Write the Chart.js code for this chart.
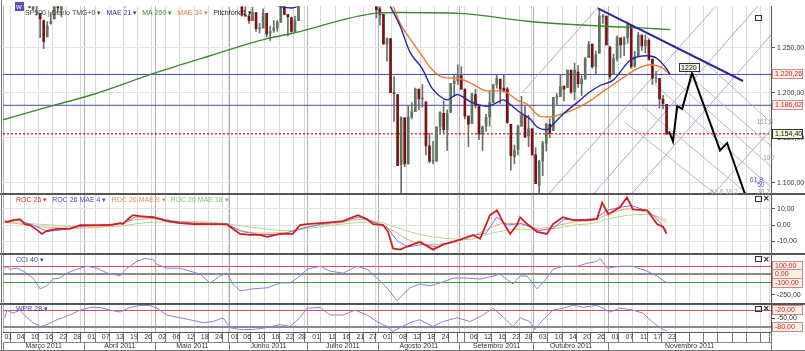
<!DOCTYPE html>
<html><head><meta charset="utf-8">
<script src="https://cdn.jsdelivr.net/npm/chart.js@4.4.1/dist/chart.umd.min.js"></script>
<style>html,body{margin:0;padding:0;background:#fff;overflow:hidden}</style>
</head><body>
<canvas id="c" width="805" height="351"></canvas>
<script>
// ---------- DATA (trading-day index 0 = 01 Mar 2011) ----------
const O = [1329,1305,1312,1331,1323,1311,1320,1316,1293,1301,1288,1280,1262,1277,1282,1298,1292,1301,1312,1316,1309,1322,1327,
1330,1334,1332,1336,1335,1336,1329,1322,1314,1311,1315,1313,1306,1319,1333,1337,1337,1348,1354,1360,
1365,1360,1356,1344,1340,1340,1348,1355,1339,1349,1335,1326,1329,1342,1342,1333,1318,1316,1321,1326,1331,
1345,1315,1313,1300,1286,1285,1280,1289,1271,1272,1288,1266,1269,1272,1278,1296,1287,1283,1268,1280,1297,1308,
1321,1340,1338,1340,1352,1343,1320,1315,1318,1309,1316,1307,1329,1326,1344,1344,1337,1332,1305,1300,
1293,1287,1254,1260,1200,1198,1120,1172,1121,1173,1179,1204,1193,1190,1141,1124,1124,1162,1177,1159,1178,1210,1213,
1219,1204,1174,1166,1198,1185,1154,1163,1173,1189,1209,1215,1205,1204,1165,1129,1137,1163,1175,1152,1160,
1131,1097,1124,1144,1165,1158,1195,1196,1207,1206,1225,1201,1223,1210,1215,1239,1254,1229,1244,1284,1285,
1251,1220,1238,1261,1253,1261,1275,1230,1240,1264,1252,1258,1237,1216,1216,1193,1187];
const H = [1332,1314,1332,1331,1328,1326,1323,1316,1308,1301,1288,1281,1279,1289,1301,1299,1301,1311,1319,1320,1320,1332,1330,
1338,1337,1338,1339,1339,1340,1334,1322,1321,1317,1323,1313,1313,1333,1338,1338,1350,1358,1362,1365,
1371,1361,1356,1348,1354,1349,1359,1355,1351,1351,1343,1330,1342,1347,1342,1333,1324,1326,1329,1335,1345,
1345,1318,1313,1300,1296,1287,1295,1289,1277,1293,1288,1274,1280,1280,1298,1299,1287,1284,1285,1297,1309,1322,
1341,1341,1341,1357,1352,1343,1327,1332,1327,1318,1316,1328,1330,1347,1346,1344,1339,1332,1316,1304,
1307,1287,1261,1260,1218,1198,1173,1172,1186,1189,1205,1204,1209,1190,1155,1146,1162,1179,1191,1181,1210,1220,1231,
1229,1204,1174,1199,1204,1185,1163,1176,1202,1209,1220,1215,1220,1206,1165,1142,1164,1196,1185,1175,1160,
1139,1125,1146,1166,1171,1195,1199,1220,1208,1225,1225,1233,1230,1219,1239,1257,1254,1246,1293,1287,1285,
1251,1243,1263,1261,1262,1278,1275,1246,1267,1264,1264,1260,1238,1224,1216,1197,1187];
const L = [1306,1303,1312,1313,1304,1307,1312,1294,1292,1286,1261,1249,1262,1276,1282,1289,1284,1298,1310,1310,1305,1322,1325,
1329,1329,1330,1331,1327,1323,1321,1310,1309,1302,1314,1295,1304,1319,1332,1332,1337,1344,1354,1359,
1359,1350,1342,1329,1334,1339,1348,1336,1332,1333,1327,1319,1327,1336,1331,1313,1314,1312,1314,1326,1331,
1314,1306,1298,1285,1285,1277,1280,1268,1266,1272,1262,1258,1267,1268,1278,1287,1263,1267,1268,1280,1297,1308,
1318,1331,1331,1340,1334,1316,1313,1315,1307,1307,1296,1307,1324,1326,1337,1331,1329,1304,1299,1283,
1275,1254,1235,1200,1168,1119,1086,1118,1121,1171,1179,1181,1184,1131,1122,1121,1124,1156,1155,1136,1178,1196,1209,
1204,1171,1140,1166,1183,1148,1136,1157,1163,1189,1205,1188,1201,1166,1114,1121,1131,1163,1150,1140,1131,
1099,1075,1108,1135,1150,1158,1187,1196,1191,1206,1199,1192,1206,1197,1215,1239,1227,1221,1244,1277,1253,
1215,1220,1235,1239,1241,1255,1227,1228,1240,1247,1244,1236,1209,1211,1183,1182,1154];
const C = [1306,1308,1331,1321,1310,1322,1320,1295,1304,1296,1282,1257,1274,1279,1298,1294,1298,1310,1314,1310,1319,1328,1326,
1332,1333,1333,1336,1334,1328,1324,1314,1314,1315,1320,1305,1313,1330,1337,1335,1347,1356,1360,1364,
1361,1357,1347,1335,1340,1346,1357,1342,1349,1338,1329,1329,1341,1344,1333,1317,1316,1320,1326,1331,1345,
1315,1313,1300,1286,1285,1280,1289,1271,1272,1288,1265,1268,1272,1278,1296,1287,1284,1268,1280,1297,1307,1321,
1340,1338,1339,1353,1344,1319,1314,1318,1309,1316,1305,1327,1326,1344,1345,1337,1332,1305,1301,1292,
1287,1254,1260,1200,1199,1119,1173,1121,1173,1179,1204,1193,1194,1141,1124,1124,1162,1178,1159,1177,1210,1213,1219,
1204,1174,1165,1199,1186,1154,1162,1173,1189,1209,1216,1204,1202,1167,1130,1136,1163,1175,1151,1160,1131,
1099,1124,1144,1165,1155,1195,1196,1207,1204,1225,1201,1225,1210,1215,1238,1254,1229,1242,1285,1285,1253,
1218,1238,1261,1253,1261,1276,1229,1240,1264,1252,1258,1237,1216,1216,1193,1188,1154];

// moving averages: [day index, price]
const ma200 = [[-0.5,1170],[14.8,1187],[24.9,1198],[42.5,1222],[58,1241],[74.1,1260],[81.4,1266],[104.6,1288],[111.7,1289],[128.6,1288],[148.4,1279],[168.2,1274],[179.5,1272],[188,1270]];
const mae21 = [[0,1318],[11,1302],[20,1306],[30,1322],[43,1340],[55,1340],[63,1333],[72,1305],[81,1294],[90,1318],[100,1324],[106,1315],[108.9,1296],[111.7,1274],[114.5,1245],[117.9,1227],[120.7,1205],[123,1196],[125,1192],[127.8,1198],[129.2,1196],[131.5,1190],[136.3,1185],[139.1,1189],[140.8,1192],[142.8,1187],[145.6,1178],[148.4,1171],[150.4,1162],[153.2,1159],[154.9,1165],[157.7,1176],[161.7,1189],[165.4,1201],[168.2,1208],[171.9,1214],[176.7,1236],[181.5,1241],[184.3,1238],[187.1,1226],[188,1220]];
const mae34 = [[0,1305],[15,1300],[30,1315],[45,1333],[63,1335],[75,1310],[85,1305],[100,1318],[106,1315],[109.7,1296],[111.7,1277],[114.5,1260],[117.9,1241],[120.2,1228],[123.8,1217],[127.8,1216],[131.5,1211],[136.3,1202],[139.9,1202],[141.9,1200],[144.7,1192],[147.6,1187],[151.2,1174],[154.1,1173],[156.9,1176],[160.6,1181],[165.4,1191],[168.2,1199],[173,1212],[177.5,1224],[182.3,1231],[186,1227],[188,1220]];

const levelsBlue = [1220.26, 1186.02];
const lastPrice = 1154.40;
const trendLine = [[167.6,1293.5],[208.6,1213]];
const forecast = [[187.7,1157],[188.8,1146],[190,1185],[191.4,1182],[194.2,1222],[202.1,1136],[204.1,1144],[210,1078]];
const forkLines = [
  [[146.15,1200],[169.3,1302]],
  [[153.5,1087],[201.8,1300]],
  [[166.2,1087],[213.4,1299]],
  [[177,1087],[216.5,1264]],
  [[200.1,1087],[216.5,1159]]
];
const fibLines = [
  [[183.7,1209],[216.5,1095]],
  [[187.4,1220],[216.5,1118]],
  [[190.8,1228],[216.5,1141]],
  [[196.4,1239],[216.5,1167]],
  [[179.5,1187],[210,1087]],
  [[175.3,1167],[201,1087]]
];

// indicators: [day index, value]
const roc26 = [[0,2.4],[0.6,1.8],[2.3,3.0],[4.3,3.6],[5.7,0.6],[7.1,0],[9.1,-3.0],[10.5,-5.5],[11.9,-3.6],[14.8,-2.4],[18.4,-2.4],[21.3,0],[24.1,0],[26.9,0],[29.7,0],[32.6,1.2],[33.4,0.6],[34.8,3.6],[36.2,6.1],[38.2,5.5],[41.9,4.8],[43.9,3.6],[45.8,2.4],[49.5,1.2],[53.2,0.6],[58.8,0.6],[62.8,0.6],[64.5,-2.4],[66.5,-5.5],[69.3,-6.1],[72.1,-6.1],[74.1,-7.3],[77.8,-5.5],[81.4,-5.5],[83.4,0],[85.4,0.6],[89.1,1.2],[92.7,1.8],[95.6,2.4],[97.5,4.2],[99.8,6.1],[102.4,3.6],[104.1,0.6],[106.9,0],[108.3,-4.2],[109.7,-14.5],[111.7,-15.2],[113.7,-13.3],[117.3,-10.3],[121,-15.2],[123.8,-12.1],[128.6,-9.1],[132.3,-6.1],[134.3,-8.5],[137.1,6.1],[139.1,9.1],[140.8,1.8],[142.8,-5.5],[144.7,0],[145.6,4.8],[147.6,0.6],[150.4,-4.2],[153.2,-5.5],[154.9,0.6],[157.7,4.8],[160.6,3.0],[164.5,3.0],[167.3,3.6],[168.8,13.9],[170.5,6.7],[173.8,10.9],[175.8,17],[177.5,9.7],[181.5,9.1],[184.3,0.6],[186,-1.2],[187,-5.5]];
const rocMae4 = [[0,2.2],[4,2.8],[8,0],[12,-4],[16,-3],[21,-1],[27,0],[33,0.8],[37,5],[42,5],[47,2.5],[55,0.8],[63,0.3],[67,-4],[72,-6],[78,-5.8],[84,-2],[90,0.8],[96,2.5],[100,5],[104,2],[108,-1.5],[111,-10],[114,-13.5],[118,-12],[122,-13.5],[127,-10],[132,-6.5],[136,-5],[139,5],[142,0],[146,1],[151,-3.5],[155,-2],[158,3.5],[162,3.2],[167,4],[170,9],[174,11],[177,12],[182,8.5],[185,2],[187,-3.5]];
const rocMae9 = [[0,2],[10,-1],[20,-2],[30,-0.5],[36,3],[42,4],[50,2],[60,0.8],[66,-3],[72,-5],[80,-4.5],[86,-1],[95,1.5],[100,3.5],[106,1],[110,-4],[115,-10],[120,-12],[126,-11],[131,-8],[137,-2],[141,1],[146,0.5],[151,-2],[156,-0.5],[161,2],[166,3],[171,7],[176,10],[181,8],[185,4],[187,1.5]];
const rocMae18 = [[0,1.5],[10,0.5],[20,-1],[30,-1],[40,1.5],[50,2],[60,1.5],[70,-1.5],[80,-3.5],[86,-2],[95,0.5],[105,2],[110,-1],[115,-4.5],[120,-7],[126,-8.5],[131,-9],[136,-6],[141,-3.5],[146,-2.5],[151,-3],[156,-2],[161,0],[166,1],[171,4],[176,6],[181,6.5],[185,5],[187,3]];
const cci40 = [[0,64],[0.3,100],[1.5,64],[3.5,76],[5.2,40],[8,-45],[10,-177],[11.9,-141],[13.6,-57],[15.6,-45],[17.6,16],[20.4,64],[23.2,100],[26.1,76],[28.9,16],[30.6,4],[32.6,-20],[34.5,76],[37.4,160],[39.6,196],[41.9,184],[43,124],[45.8,76],[49.5,76],[52.3,40],[55.2,4],[58,-105],[60.8,-20],[62.8,16],[64.5,-117],[66.5,-201],[70.1,-177],[74.1,-165],[77.8,-105],[80.6,-105],[83.4,-20],[85.4,64],[89.1,100],[91.9,40],[95.6,16],[99.5,100],[102.4,64],[105.2,-45],[108,-165],[110.8,-322],[111.7,-286],[114.5,-165],[117.3,-117],[120.2,-141],[123,-105],[126.7,-45],[130.6,-45],[134.3,-57],[138,-20],[139.9,4],[143.6,-117],[145.6,-20],[147.6,-20],[150.4,-177],[153.2,-45],[154.9,64],[157.7,100],[161.7,100],[164.5,136],[167.3,160],[168.2,196],[170.2,76],[173.8,100],[177.5,100],[181.5,40],[184.3,-20],[187,-105]];
const wpr28 = [[0,-48],[0.6,-20],[2.3,-31],[4.3,-20],[6.3,-48],[8,-66],[10,-80],[11.9,-73],[14.8,-55],[18.4,-38],[21.3,-20],[24.1,-10],[26.9,-10],[29.7,-20],[32.6,-27],[35.4,-10],[38.2,-3],[41,-3],[43,-13],[45.8,-38],[49.5,-48],[52.3,-55],[56,-66],[58.8,-62],[61.7,-48],[63.6,-84],[66.5,-91],[70.1,-91],[74.1,-84],[77.8,-73],[80.6,-80],[83.4,-48],[85.4,-13],[89.1,-10],[91.9,-38],[95.6,-38],[99,-20],[102.4,-38],[105.2,-62],[108,-80],[109.7,-98],[111.7,-84],[114.5,-66],[117.3,-55],[121,-80],[123.8,-62],[127.8,-48],[131.5,-62],[135.1,-38],[138,-13],[140.8,-45],[143.6,-80],[145.6,-48],[148.4,-62],[149.8,-91],[152.1,-55],[154.9,-20],[157.7,-13],[160.6,-2],[163.4,-10],[167.3,-2],[171,-27],[173.8,-13],[177.5,-20],[180.3,-31],[183.2,-66],[186,-91],[187,-95]];

// axis labels
const dayBounds = [0,3,7,11,15,19,23,27,31,35,39,43,47,51,55,59,63,64,67,71,75,79,83,86,91,95,99,103,106,111,115,119,123,127,129,131,135,139,143,147,150,155,159,163,167,171,175,179,183,187,191,195,199,203,207,211,215,217];
const dayLabels = ['01','04','10','16','22','28','01','07','13','19','26','02','06','12','18','24','','01','06','10','16','22','28','01','11','16','21','27','01','08','12','18','24','','','06','12','16','22','28','03','10','14','20','26','01','07','11','17','23','','','','','','',''];
const monthBounds = [0,23,43,64,86,106,129,150,171,217];
const monthLabels = ['Março 2011','Abril 2011','Maio 2011','Junho 2011','Julho 2011','Agosto 2011','Setembro 2011','Outubro 2011','Novembro 2011'];
const priceTicks = [1100,1150,1200,1250];
const rocTicks = [10,0,-10];
const cciTicks = [100,0,-100,-250];
const wprTicks = [-20,-50,-80];

// ---------- helpers ----------
function fmt(v){const n=v<0;let [a,b]=Math.abs(v).toFixed(2).split('.');a=a.replace(/\B(?=(\d{3})+(?!\d))/g,'.');return (n?'-':'')+a+','+b;}
const pts = a => a.map(([x,y])=>({x,y}));
function ln(data,color,yAxisID,extra){return Object.assign({type:'line',data:pts(data),borderColor:color,borderWidth:1,pointRadius:0,fill:false,tension:0,xAxisID:'x',yAxisID,order:3},extra||{});}
function cellTicks(bounds,labels,map){const t=[];bounds.forEach(b=>t.push({value:b-0.5}));for(let j=0;j<bounds.length-1;j++){const m=(bounds[j]+bounds[j+1])/2-0.5+0.0001;map.set(m.toFixed(4),labels[j]);t.push({value:m});}t.sort((p,q)=>p.value-q.value);return t;}
const isB = v => Math.abs((v+0.5)-Math.round(v+0.5))<1e-6;
const dayMap=new Map(), monMap=new Map();

Chart.defaults.font.family='"Liberation Sans", Arial, sans-serif';
Chart.defaults.font.size=7;
Chart.defaults.color='#333';

const up='#5d765d', dn='#7a1414';
const datasets=[];
datasets.push(ln(forecast,'#000','y',{borderWidth:2,order:1}));
datasets.push(ln(trendLine,'#2a2a9a','y',{borderWidth:2,order:1}));
datasets.push(ln(mae21,'#2323b0','y',{borderWidth:1.4,cubicInterpolationMode:'monotone',order:2}));
datasets.push(ln(mae34,'#e87a35','y',{borderWidth:1.4,cubicInterpolationMode:'monotone',order:2}));
datasets.push(ln(ma200,'#3a8a2e','y',{borderWidth:1.4,cubicInterpolationMode:'monotone',order:2}));
forkLines.forEach(s=>datasets.push(ln(s,'#a8a8e0','y',{order:9})));
fibLines.forEach(s=>datasets.push(ln(s,'#b8b8b8','y',{order:9})));
levelsBlue.forEach(v=>datasets.push(ln([[-0.5,v],[216.5,v]],'#4646b4','y',{order:9})));
datasets.push(ln([[-0.5,lastPrice],[216.5,lastPrice]],'#d81c1c','y',{borderDash:[2,2],borderWidth:1.3,order:9}));
datasets.push({type:'bar',data:O.map((o,i)=>({x:i,y:[Math.min(o,C[i]),Math.max(o,C[i])+(o===C[i]?0.6:0)]})),backgroundColor:O.map((o,i)=>C[i]>=o?up:dn),barThickness:2,grouped:false,xAxisID:'x',yAxisID:'y',order:6});
datasets.push({type:'bar',data:O.map((o,i)=>({x:i,y:[L[i],H[i]]})),backgroundColor:'#6e6e6e',barThickness:1,grouped:false,xAxisID:'x',yAxisID:'y',order:7});
datasets.push(ln(roc26,'#d41e1e','yRoc',{borderWidth:1.8,order:1}));
datasets.push(ln(rocMae4,'#7a7ae6','yRoc',{order:2}));
datasets.push(ln(rocMae9,'#f2a878','yRoc',{order:3,cubicInterpolationMode:'monotone'}));
datasets.push(ln(rocMae18,'#b4d890','yRoc',{order:4,cubicInterpolationMode:'monotone'}));
datasets.push(ln(cci40,'#8484e0','yCci'));
datasets.push(ln(wpr28,'#8484e0','yWpr'));

function yAxis(extra){return Object.assign({type:'linear',position:'right',stack:'p',offset:false,
  afterFit:s=>{s.width=34;},
  border:{color:'#555',width:1},
  ticks:{autoSkip:false,padding:2,callback:v=>fmt(v),color:'#333',font:{size:7}},
  grid:{color:'#e2e2e2',tickLength:4,tickColor:'#555'}},extra);}

const deco={id:'deco',
 beforeDatasetDraw(chart,args){const ds=chart.data.datasets[args.index];const ys=chart.scales[ds.yAxisID];const ca=chart.chartArea;const c=chart.ctx;c.save();c.beginPath();c.rect(ca.left,ys.top,ca.right-ca.left,ys.bottom-ys.top);c.clip();},
 afterDatasetDraw(chart){chart.ctx.restore();},
 afterDraw(chart){
  const c=chart.ctx, ca=chart.chartArea, S=chart.scales, W=chart.width;
  const X=v=>S.x.getPixelForValue(v);
  c.save();
  // panel separators
  c.strokeStyle='#555';c.lineWidth=2;
  ['yRoc','yCci','yWpr'].forEach(id=>{const y=Math.round(S[id].top);c.beginPath();c.moveTo(0,y);c.lineTo(W,y);c.stroke();});
  c.lineWidth=1;c.strokeStyle='#777';
  c.beginPath();c.moveTo(1.5,0);c.lineTo(1.5,chart.height);c.stroke();
  c.beginPath();c.moveTo(0,chart.height-0.5);c.lineTo(W,chart.height-0.5);c.stroke();
  c.beginPath();c.moveTo(ca.right+0.5,ca.bottom);c.lineTo(ca.right+0.5,chart.height);c.stroke();
  // legends
  c.textBaseline='middle';c.textAlign='left';
  c.fillStyle='#5b4fb5';c.fillRect(15,2,9,9);c.fillStyle='#fff';c.font='6px "Liberation Sans"';c.fillText('W',16,7);
  c.font='7px "Liberation Sans", Arial, sans-serif';
  const seq=(x,y,items)=>{items.forEach(([t,col])=>{c.fillStyle=col;c.fillText(t,x,y);x+=c.measureText(t).width+5;});};
  seq(25,S.y.top+6.5,[['SP500 | Diario TMG+0 ▾','#444'],['MAE 21 ▾','#3434b0'],['MA 200 ▾','#3a8a2e'],['MAE 34 ▾','#e8803a'],['Pitchfork 1 ▾','#222']]);
  seq(16,S.yRoc.top+6,[['ROC 26 ▾','#d43030'],['ROC 26 MAE 4 ▾','#4a4ac0'],['ROC 26 MAE 9 ▾','#e8904a'],['ROC 26 MAE 18 ▾','#8cc060']]);
  seq(16,S.yCci.top+6,[['CCI 40 ▾','#3c3cb4']]);
  seq(16,S.yWpr.top+6,[['WPR 28 ▾','#3c3cb4']]);
  // panel icons
  c.strokeStyle='#333';c.fillStyle='#222';c.lineWidth=1;
  const icon=(y,withX)=>{c.strokeRect(755.5,Math.round(y)-2.5,6,5);if(withX){c.font='bold 8px "DejaVu Sans"';c.fillText('×',763,y);}};
  icon(S.y.top+12,false);icon(S.yRoc.top+5,true);icon(S.yCci.top+5,true);icon(S.yWpr.top+5,true);
  // in-plot labels
  c.font='6.5px "Liberation Sans", Arial, sans-serif';
  const t=(i,p,txt,col)=>{c.fillStyle=col;c.fillText(txt,X(i),S.y.getPixelForValue(p));};
  t(212.4,1167,'161,8','#999');t(214.3,1127,'100','#999');t(210.6,1103,'61,8','#5a5ab0');t(212.6,1097,'50','#5a5ab0');t(212.6,1090,'38,2','#999');t(198.8,1090,'-61,8 38,2','#aaa');
  // 1220 tag
  {const x=X(193.3), y=S.y.getPixelForValue(1227.7);c.font='7px "Liberation Sans"';const w=c.measureText('1220').width+4;c.fillStyle='#f3f1e2';c.fillRect(x-w/2,y-4.5,w,9);c.strokeStyle='#333';c.strokeRect(Math.round(x-w/2)+0.5,Math.round(y-4.5)+0.5,Math.round(w),8);c.fillStyle='#111';c.textAlign='center';c.fillText('1220',x,y+0.5);c.textAlign='left';}
  // boxed axis tags
  const tag=(scale,v,fg,bg,bd)=>{const y=Math.round(scale.getPixelForValue(v));c.font='7px "Liberation Sans", Arial, sans-serif';c.fillStyle=bg;c.fillRect(772,y-5,31,10);c.strokeStyle=bd;c.strokeRect(772.5,y-4.5,30,9);c.fillStyle=fg;c.fillText(fmt(v),775,y+0.5);};
  tag(S.y,1220.26,'#c02828','#fdeee6','#d08a80');
  tag(S.y,1186.02,'#c02828','#fdeee6','#d08a80');
  tag(S.y,1154.40,'#111','#f6f6dc','#333');
  tag(S.yCci,100,'#c02828','#fdeee6','#d08a80');
  tag(S.yCci,0,'#c02828','#fdeee6','#d08a80');
  tag(S.yCci,-100,'#c02828','#fdeee6','#d08a80');
  tag(S.yWpr,-20,'#c02828','#fdeee6','#d08a80');
  tag(S.yWpr,-80,'#c02828','#fdeee6','#d08a80');
  c.restore();
 }};

new Chart(document.getElementById('c'),{
 type:'line',
 data:{datasets},
 options:{responsive:false,animation:false,devicePixelRatio:1,
  layout:{autoPadding:false,padding:{left:3,right:0,top:0,bottom:0}},
  plugins:{legend:{display:false},tooltip:{enabled:false}},
  scales:{
   x:{type:'linear',position:'bottom',min:-0.5,max:216.5,offset:false,
     afterBuildTicks:s=>{s.ticks=cellTicks(dayBounds,dayLabels,dayMap);},
     afterFit:s=>{s.height=10;},
     border:{color:'#555',width:1},
     ticks:{autoSkip:false,maxRotation:0,padding:-8,callback:v=>dayMap.get(v.toFixed(4))||'',font:{size:7,lineHeight:1},color:'#333'},
     grid:{tickLength:10,color:c=>c.tick&&isB(c.tick.value)?'#dadada':'rgba(0,0,0,0)',tickColor:c=>c.tick&&isB(c.tick.value)?'#777':'rgba(0,0,0,0)'}},
   x2:{type:'linear',position:'bottom',min:-0.5,max:216.5,offset:false,
     afterBuildTicks:s=>{s.ticks=cellTicks(monthBounds,monthLabels,monMap);},
     afterFit:s=>{s.height=9;},
     border:{color:'#888',width:1},
     ticks:{autoSkip:false,maxRotation:0,padding:-8,callback:v=>monMap.get(v.toFixed(4))||'',font:{size:7,lineHeight:1},color:'#333'},
     grid:{tickLength:9,color:c=>c.tick&&isB(c.tick.value)?'#b0b0b0':'rgba(0,0,0,0)',tickColor:c=>c.tick&&isB(c.tick.value)?'#777':'rgba(0,0,0,0)'}},
   y:yAxis({stackWeight:191,min:1088,max:1296,afterBuildTicks:s=>{s.ticks=priceTicks.map(v=>({value:v}));}}),
   yRoc:yAxis({stackWeight:62,min:-18.2,max:19.4,afterBuildTicks:s=>{s.ticks=rocTicks.map(v=>({value:v}));}}),
   yCci:yAxis({stackWeight:50,min:-358,max:245,afterBuildTicks:s=>{s.ticks=cciTicks.map(v=>({value:v}));},
     grid:{tickLength:4,tickColor:'#555',color:c=>({100:'#d85050',0:'#8a8a8a','-100':'#3c9a3c'})[c.tick?c.tick.value:'x']||'rgba(0,0,0,0)',lineWidth:c=>c.tick&&c.tick.value===0?2:1}}),
   yWpr:yAxis({stackWeight:29,min:-100,max:4,afterBuildTicks:s=>{s.ticks=wprTicks.map(v=>({value:v}));},
     grid:{tickLength:4,tickColor:'#555',color:c=>({'-20':'#d85050','-80':'#8a8a8a'})[c.tick?c.tick.value:'x']||'rgba(0,0,0,0)',lineWidth:c=>c.tick&&c.tick.value===-80?2:1}})
  }},
 plugins:[deco]
});
</script>
</body></html>
